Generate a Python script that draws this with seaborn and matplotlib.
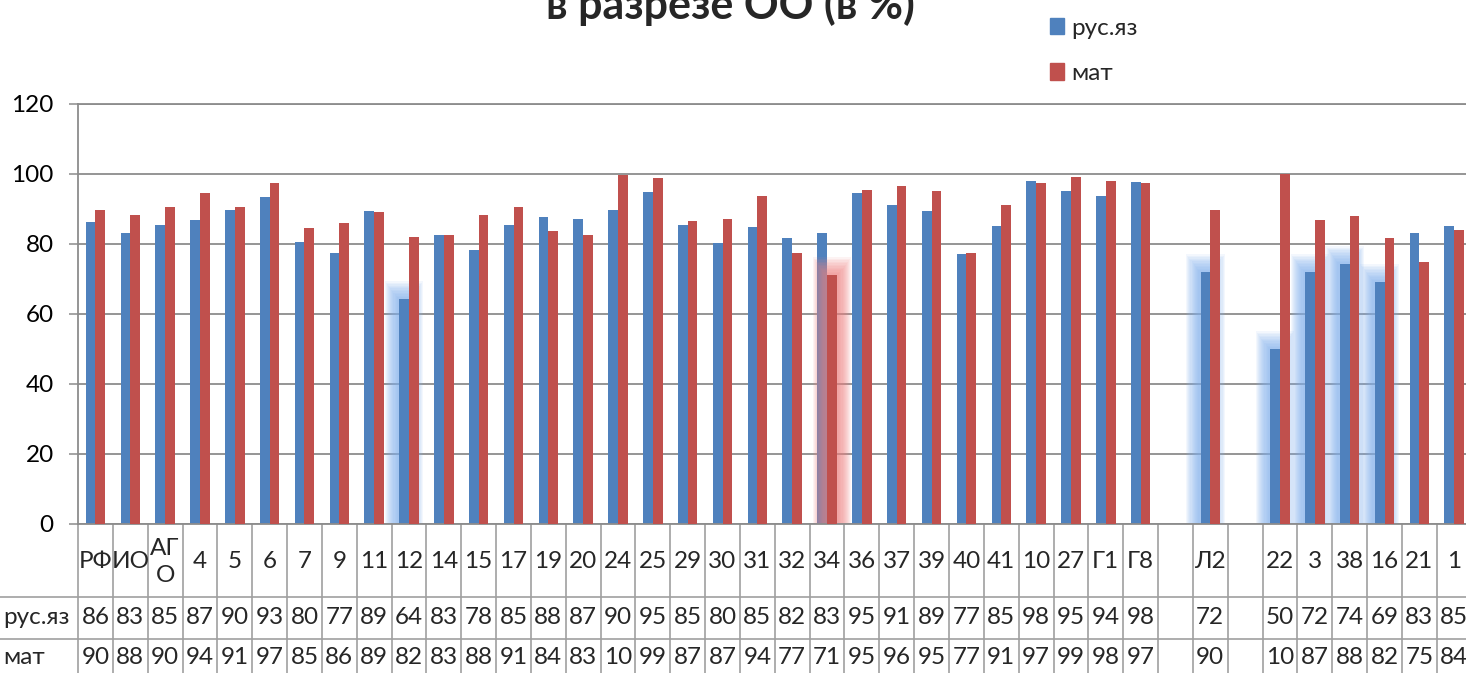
import numpy as np
import pandas as pd
import matplotlib
matplotlib.use("Agg")
import matplotlib.pyplot as plt
import seaborn as sns
from matplotlib.patches import Patch
from matplotlib.lines import Line2D
from matplotlib.transforms import blended_transform_factory

# --- data (blank columns are empty slots in the original) ---
categories = ["РФ", "ИО", "АГО", "4", "5", "6", "7", "9", "11", "12", "14", "15", "17",
              "19", "20", "24", "25", "29", "30", "31", "32", "34", "36", "37", "39",
              "40", "41", "10", "27", "Г1", "Г8", " ", "Л2", "  ", "22", "3", "38",
              "16", "21", "1"]
rus = [86.3, 83.0, 85.4, 86.8, 89.7, 93.3, 80.4, 77.2, 89.3, 64.3, 82.6, 78.2, 85.2,
       87.6, 87.0, 89.6, 94.8, 85.2, 80.1, 84.7, 81.7, 83.1, 94.6, 90.9, 89.4,
       77.1, 85.1, 97.9, 95.1, 93.6, 97.5, np.nan, 72.0, np.nan, 50.0, 72.0, 74.3,
       69.1, 83.1, 85.1]
mat = [89.6, 88.2, 90.4, 94.4, 90.6, 97.2, 84.6, 85.9, 89.1, 81.9, 82.6, 88.2, 90.6,
       83.6, 82.6, 99.7, 98.8, 86.6, 87.0, 93.6, 77.2, 71.1, 95.4, 96.4, 95.1,
       77.2, 90.9, 97.3, 99.1, 97.8, 97.3, np.nan, 89.7, np.nan, 100.0, 86.8, 88.0,
       81.6, 74.9, 83.8]
series_names = ["рус.яз", "мат"]
colors = ["#4F81BD", "#C0504D"]

# bars that carry a soft glow in the original
glow_rus = ["12", "Л2", "22", "3", "38", "16"]
glow_mat = ["34"]

df = pd.DataFrame({
    "ОО": categories * 2,
    "предмет": [series_names[0]] * len(categories) + [series_names[1]] * len(categories),
    "value": rus + mat,
}).dropna()

sns.set_theme(style="white")
plt.rcParams['font.family'] = ['Lato', 'Noto Sans', 'DejaVu Sans']
FS = 17.5
GRID = "#8c8c8c"
LINE = "#a0a0a0"

W, H = 1466, 673
cat_w = 34.84
fig = plt.figure(figsize=(W / 100, H / 100), dpi=100)
ax = fig.add_axes([78 / W, 1 - 524 / H, len(categories) * cat_w / W, (524 - 103.5) / H])

sns.barplot(data=df, x="ОО", y="value", hue="предмет", order=categories,
            hue_order=series_names, palette=colors, width=0.56, saturation=1,
            linewidth=0, legend=False, ax=ax)

for cont, z in zip(ax.containers, [2, 3]):
    for p in cont:
        p.set_zorder(z)

bar_w = 0.28


def glow(xc, h, color, z):
    n = 12
    for k in range(n):
        f = 1 - k / n
        ax.bar(xc, h + 1 + 5 * f, width=bar_w + 0.08 + 0.75 * f, bottom=-1,
               color=color, alpha=0.09, linewidth=0, zorder=z)


for c in glow_rus:
    i = categories.index(c)
    glow(i - bar_w / 2, rus[i], "#7fb0ee", 1)
for c in glow_mat:
    i = categories.index(c)
    glow(i + bar_w / 2, mat[i], "#f08080", 2.5)

ax.set_ylim(0, 120)
ax.set_yticks(range(0, 121, 20))
ax.set_xlim(-0.5, len(categories) - 0.5)
ax.set_xlabel("")
ax.set_ylabel("")
ax.yaxis.grid(True, color=GRID, linewidth=1.3)
ax.set_axisbelow(True)
ax.tick_params(axis="x", bottom=False, labelbottom=False)
ax.tick_params(axis="y", left=True, length=6.5, width=1.1, color=GRID, pad=11,
               labelsize=FS, labelcolor="black")
for side in ["left", "bottom", "top"]:
    ax.spines[side].set_color(GRID)
    ax.spines[side].set_linewidth(1.3)
ax.spines["right"].set_visible(False)

# --- data table under the axis ---
tr = blended_transform_factory(ax.transData, fig.transFigure)


def fy(px):
    return 1 - px / H


for i in range(len(categories) + 1):
    ax.add_line(Line2D([i - 0.5, i - 0.5], [fy(524), 0], transform=tr, color=LINE,
                       linewidth=1.2, clip_on=False))
for ypx in [597, 639]:
    fig.add_artist(Line2D([0, 1], [fy(ypx), fy(ypx)], color=LINE, linewidth=1.2))

for i, c in enumerate(categories):
    label = "АГ\nО" if c == "АГО" else c.strip()
    ax.text(i, fy(562), label, transform=tr, ha="center", va="center", fontsize=FS,
            linespacing=1.3, clip_on=False)
    for vals, ypx in [(rus, 618), (mat, 658)]:
        v = vals[i]
        if not np.isnan(v):
            # the cells are too narrow in the original: 100 shows as "10"
            ax.text(i, fy(ypx), str(int(round(v)))[:2], transform=tr, ha="center",
                    va="center", fontsize=FS, clip_on=False)

fig.text(3 / W, fy(618), series_names[0], ha="left", va="center", fontsize=FS)
fig.text(3 / W, fy(658), series_names[1], ha="left", va="center", fontsize=FS)

fig.text(730 / W, fy(19), "в разрезе ОО (в %)", ha="center", va="baseline",
         fontsize=31, fontweight="bold")

handles = [Patch(color=colors[0], label=series_names[0]),
           Patch(color=colors[1], label=series_names[1])]
fig.legend(handles=handles, loc="upper left", bbox_to_anchor=(1040 / W, fy(8)),
           frameon=False, fontsize=FS, handlelength=0.6, handleheight=0.65,
           handletextpad=0.3, labelspacing=1.0, borderaxespad=0)

fig.savefig("out.png", dpi=100)
